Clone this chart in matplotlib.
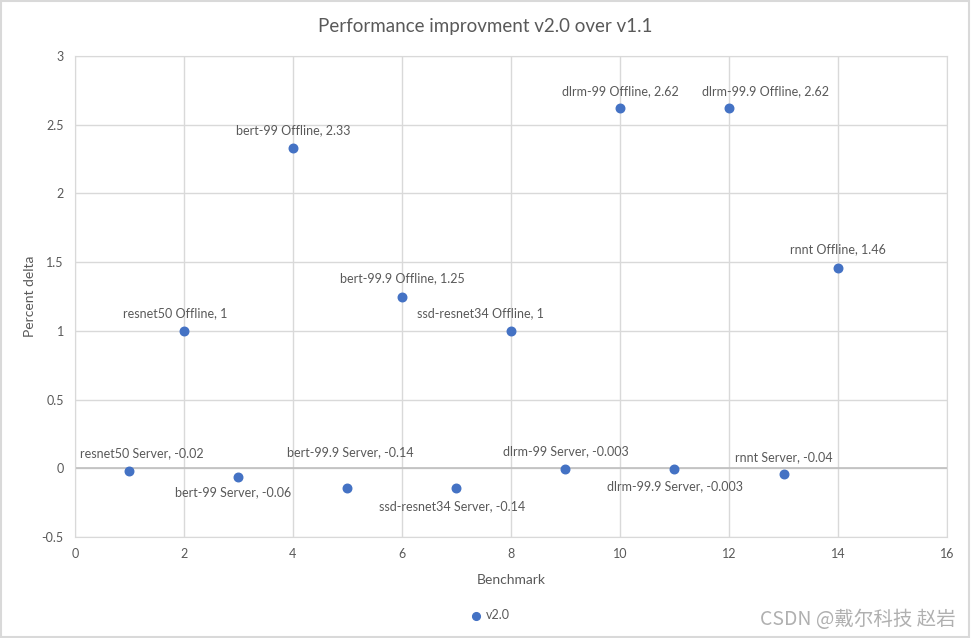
import matplotlib
matplotlib.use('Agg')
import matplotlib.pyplot as plt
from matplotlib.patches import Rectangle

# Benchmark index, percent delta and label names
bench = [1, 2, 3, 4, 5, 6, 7, 8, 9, 10, 11, 12, 13, 14]
delta = [-0.02, 1, -0.06, 2.33, -0.14, 1.25, -0.14, 1, -0.003, 2.62, -0.003, 2.62, -0.04, 1.46]
names = ['resnet50 Server', 'resnet50 Offline', 'bert-99 Server', 'bert-99 Offline',
         'bert-99.9 Server', 'bert-99.9 Offline', 'ssd-resnet34 Server', 'ssd-resnet34 Offline',
         'dlrm-99 Server', 'dlrm-99 Offline', 'dlrm-99.9 Server', 'dlrm-99.9 Offline',
         'rnnt Server', 'rnnt Offline']
value_text = ['-0.02', '1', '-0.06', '2.33', '-0.14', '1.25', '-0.14', '1',
              '-0.003', '2.62', '-0.003', '2.62', '-0.04', '1.46']

# data label placement (pixel offsets from each point, as Excel laid them out)
label_dx = [12, -9, -5, 0, 3, 0, -4, -31, 0, 0, 1, 36, 0, 0]
label_dy = [18, 18, -16, 18, 35, 18, -19, 18, 18, 17, -17, 17, 17, 18]

plt.rcParams['font.family'] = ['Lato', 'DejaVu Sans']
text_col = '#595959'
grid_col = '#D9D9D9'
blue = '#4472C4'

fig = plt.figure(figsize=(9.71, 6.38), dpi=100)
ax = fig.add_axes([0.0772, 0.1583, 0.8981, 0.7539])

ax.scatter(bench, delta, s=38, color=blue, zorder=3, label='v2.0')

for i, (x, y) in enumerate(zip(bench, delta)):
    ax.annotate(f'{names[i]}, {value_text[i]}', (x, y),
                xytext=(label_dx[i], label_dy[i]), textcoords='offset pixels',
                ha='center', va='center', fontsize=9, color=text_col)

ax.set_xlim(0, 16)
ax.set_ylim(-0.5, 3)
ax.set_xticks(range(0, 17, 2))
ax.set_yticks([-0.5, 0, 0.5, 1, 1.5, 2, 2.5, 3])
ax.set_yticklabels(['-0.5', '0', '0.5', '1', '1.5', '2', '2.5', '3'])
ax.grid(True, color=grid_col, linewidth=1)
ax.set_axisbelow(True)
ax.axhline(0, color='#BFBFBF', linewidth=1.2, zorder=1)
for sp in ax.spines.values():
    sp.set_color(grid_col)
ax.tick_params(length=0, labelsize=9, colors=text_col, pad=8)

fig.text(0.5, 0.959, 'Performance improvment v2.0 over v1.1', ha='center', va='center',
         fontsize=13.5, color=text_col)
ax.set_xlabel('Benchmark', fontsize=10, color=text_col, labelpad=10)
ax.set_ylabel('Percent delta', fontsize=10, color=text_col, labelpad=4)

leg = fig.legend(loc='center', bbox_to_anchor=(0.501, 0.036), frameon=False,
                 fontsize=9, handletextpad=-0.2, markerscale=0.9, labelcolor=text_col)

fig.text(0.984, 0.029, 'CSDN @戴尔科技 赵岩', ha='right', va='center', fontsize=14,
         color='#B0B0B0', family=['Noto Sans CJK SC', 'DejaVu Sans'])

fig.patches.append(Rectangle((0.001, 0.001), 0.997, 0.997, transform=fig.transFigure,
                             fill=False, edgecolor='#D9D9D9', linewidth=1.5))

fig.savefig('out.png', dpi=100)
